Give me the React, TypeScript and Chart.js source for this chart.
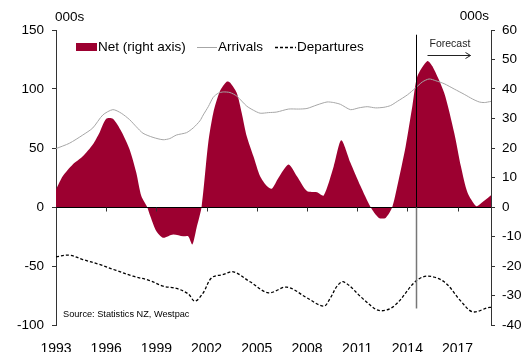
import React, { useEffect, useRef } from "react";
import { Chart, registerables } from "chart.js";

Chart.register(...registerables);

const FONT = "'Liberation Sans', Arial, sans-serif";

const xTickYears = [1993, 1996, 1999, 2002, 2005, 2008, 2011, 2014, 2017];
const leftTicks = [-100, -50, 0, 50, 100, 150];
const rightTicks = [-40, -30, -20, -10, 0, 10, 20, 30, 40, 50, 60];

const arrivalsYears = [1993.0, 1993.8, 1994.6, 1995.2, 1995.8, 1996.4, 1996.9, 1997.4, 1997.8, 1998.2, 1998.8, 1999.4, 1999.8, 2000.2, 2000.8, 2001.2, 2001.6, 2001.8, 2002.1, 2002.4, 2002.7, 2003.0, 2003.4, 2003.8, 2004.4, 2004.8, 2005.2, 2005.7, 2006.2, 2006.9, 2007.5, 2008.0, 2008.6, 2009.2, 2009.6, 2010.0, 2010.6, 2011.1, 2011.6, 2012.1, 2012.6, 2013.0, 2013.4, 2014.0, 2014.5, 2014.9, 2015.3, 2015.7, 2016.2, 2016.8, 2017.4, 2017.9, 2018.3, 2018.6, 2019.0];
const arrivalsValues = [49.5, 54, 61, 67, 78, 82.5, 79.5, 74, 68, 62.5, 59, 57, 58, 61, 63, 67, 73, 78, 85, 93, 96.5, 97.5, 97, 94, 85.5, 82, 79.5, 80, 80.5, 83, 83, 83.5, 86.5, 89, 88.5, 87, 82.5, 84, 85, 84, 84.5, 86, 89.5, 95, 101, 106, 108.5, 107, 104.5, 100, 95.5, 91.5, 89, 88.5, 89.5];

const netYears = [1993.0, 1993.4, 1994.0, 1994.6, 1995.2, 1995.6, 1996.0, 1996.4, 1996.9, 1997.4, 1997.8, 1998.1, 1998.45, 1998.6, 1999.0, 1999.4, 2000.0, 2000.6, 2000.9, 2001.15, 2001.4, 2001.7, 2002.1, 2002.4, 2002.8, 2003.2, 2003.4, 2003.8, 2004.1, 2004.4, 2004.8, 2005.2, 2005.6, 2005.9, 2006.3, 2006.9, 2007.4, 2008.0, 2008.6, 2009.0, 2009.6, 2010.05, 2010.6, 2011.2, 2011.8, 2012.3, 2012.7, 2013.1, 2013.4, 2013.9, 2014.3, 2014.6, 2015.2, 2015.5, 2016.2, 2016.8, 2017.2, 2017.6, 2018.1, 2018.3, 2019.0];
const netValues = [5.9, 10.4, 14.4, 17.2, 21.2, 25.2, 29.9, 29.9, 25.7, 19.5, 11.6, 3.7, 0, -2.5, -8.2, -10.4, -9.3, -9.9, -9.9, -12.7, -7.1, 0, 21.8, 31.9, 39.3, 42.5, 42.2, 38.7, 31.9, 24, 17.2, 10.4, 7.1, 6.2, 9.9, 14.4, 10.4, 5.4, 5.0, 3.9, 13.8, 22.6, 15, 7.1, 0, -3.7, -3.7, 0, 7.1, 20.6, 34.2, 44.3, 49.5, 47.7, 38.7, 25.2, 13.8, 4.8, 0.3, 0.8, 4];

const departuresYears = [1993.0, 1993.8, 1994.6, 1995.6, 1996.6, 1997.6, 1998.6, 1999.4, 2000.2, 2000.9, 2001.3, 2001.8, 2002.3, 2003.0, 2003.6, 2004.6, 2005.7, 2006.8, 2008.0, 2009.0, 2009.4, 2009.8, 2010.2, 2011.4, 2012.3, 2013.2, 2014.5, 2015.2, 2016.2, 2017.2, 2017.9, 2018.8, 2019.0];
const departuresValues = [-42.2, -40.8, -44.5, -48.7, -53.8, -58.6, -62.3, -67.1, -69, -73.6, -79.8, -72.7, -60, -57.2, -54.9, -63.4, -72.7, -67.9, -77, -84, -77, -67.1, -63.4, -78.4, -87.7, -84, -62.9, -58.6, -63.4, -79.8, -88.8, -85.4, -85];

const forecastYear = 2014.5;

const NET_COLOR = "#9c0030";
const ARR_COLOR = "#a6a6a6";

const zip = (xs: number[], ys: number[]) => xs.map((x, i) => ({ x, y: ys[i] }));

const overlayPlugin = {
  id: "overlay",
  afterDatasetsDraw(chart: any) {
    const { ctx, chartArea, scales } = chart;
    const xS = scales.x;
    const yS = scales.y;
    const y0 = Math.round(yS.getPixelForValue(0)) + 0.5;
    ctx.save();
    // zero line
    ctx.strokeStyle = "#000";
    ctx.lineWidth = 1;
    ctx.beginPath();
    ctx.moveTo(chartArea.left, y0);
    ctx.lineTo(chartArea.right, y0);
    ctx.stroke();
    // x tick marks on the zero line
    ctx.strokeStyle = "#333";
    xTickYears.forEach((yr) => {
      const px = Math.round(xS.getPixelForValue(yr)) + 0.5;
      ctx.beginPath();
      ctx.moveTo(px, y0);
      ctx.lineTo(px, y0 + 4);
      ctx.stroke();
    });
    // forecast divider
    const fx = Math.round(xS.getPixelForValue(forecastYear)) + 0.5;
    ctx.strokeStyle = "#000";
    ctx.beginPath();
    ctx.moveTo(fx, yS.getPixelForValue(146));
    ctx.lineTo(fx, y0);
    ctx.stroke();
    ctx.strokeStyle = "#777";
    ctx.lineWidth = 1.5;
    ctx.beginPath();
    ctx.moveTo(fx, y0);
    ctx.lineTo(fx, yS.getPixelForValue(-86));
    ctx.stroke();
    // forecast label and arrow
    ctx.fillStyle = "#222";
    ctx.font = `10.5px ${FONT}`;
    ctx.textBaseline = "middle";
    ctx.textAlign = "left";
    ctx.fillText("Forecast", fx + 13, 44);
    ctx.strokeStyle = "#222";
    ctx.lineWidth = 1;
    ctx.beginPath();
    ctx.moveTo(fx + 11, 55.5);
    ctx.lineTo(fx + 54, 55.5);
    ctx.stroke();
    ctx.beginPath();
    ctx.moveTo(fx + 49, 52.5);
    ctx.lineTo(fx + 54, 55.5);
    ctx.lineTo(fx + 49, 58.5);
    ctx.stroke();

    // legend
    ctx.font = `13.5px ${FONT}`;
    ctx.fillStyle = NET_COLOR;
    ctx.fillRect(76, 43, 21, 8);
    ctx.fillStyle = "#000";
    ctx.fillText("Net (right axis)", 98, 47.5);
    ctx.strokeStyle = ARR_COLOR;
    ctx.lineWidth = 1;
    ctx.beginPath();
    ctx.moveTo(197, 47.5);
    ctx.lineTo(217, 47.5);
    ctx.stroke();
    ctx.fillText("Arrivals", 218, 47.5);
    ctx.strokeStyle = "#000";
    ctx.lineWidth = 1.3;
    ctx.setLineDash([3, 2]);
    ctx.beginPath();
    ctx.moveTo(275, 47.5);
    ctx.lineTo(296, 47.5);
    ctx.stroke();
    ctx.setLineDash([]);
    ctx.fillText("Departures", 297, 47.5);

    // unit labels
    ctx.font = `13.5px ${FONT}`;
    ctx.textAlign = "left";
    ctx.fillText("000s", 55, 17.5);
    ctx.textAlign = "right";
    ctx.fillText("000s", 489, 16.5);

    // source
    ctx.textAlign = "left";
    ctx.font = `9.2px ${FONT}`;
    ctx.fillText("Source: Statistics NZ, Westpac", 63, 314);
    ctx.restore();
  },
};

export default function App() {
  const ref = useRef<HTMLCanvasElement | null>(null);
  useEffect(() => {
    if (!ref.current) return;
    const chart = new Chart(ref.current, {
      type: "line",
      data: {
        datasets: [
          {
            label: "Arrivals",
            data: zip(arrivalsYears, arrivalsValues),
            yAxisID: "y",
            borderColor: ARR_COLOR,
            borderWidth: 1,
            pointRadius: 0,
            tension: 0.25,
            fill: false,
            order: 1,
          },
          {
            label: "Departures",
            data: zip(departuresYears, departuresValues),
            yAxisID: "y",
            borderColor: "#000",
            borderWidth: 1.3,
            borderDash: [3, 2],
            pointRadius: 0,
            tension: 0.35,
            fill: false,
            order: 1,
          },
          {
            label: "Net (right axis)",
            data: zip(netYears, netValues),
            yAxisID: "y2",
            borderColor: NET_COLOR,
            backgroundColor: NET_COLOR,
            borderWidth: 0,
            pointRadius: 0,
            tension: 0.25,
            fill: "origin",
            order: 2,
          },
        ],
      },
      options: {
        responsive: false,
        animation: false,
        layout: { padding: { top: 30, left: 0, right: 0, bottom: 0 } },
        plugins: { legend: { display: false }, tooltip: { enabled: false } },
        scales: {
          x: {
            type: "linear",
            min: 1993,
            max: 2019,
            grid: { display: false },
            border: { display: false },
            afterBuildTicks: (s: any) => {
              s.ticks = xTickYears.map((v) => ({ value: v }));
            },
            afterFit: (s: any) => {
              s.height = 27;
            },
            ticks: {
              autoSkip: false,
              maxRotation: 0,
              padding: 8,
              color: "#000",
              font: { family: FONT, size: 14 },
              callback: (v: any) => String(v),
            },
          },
          y: {
            position: "left",
            min: -100,
            max: 150,
            afterBuildTicks: (s: any) => {
              s.ticks = leftTicks.map((v) => ({ value: v }));
            },
            afterFit: (s: any) => {
              s.width = 56;
            },
            grid: { drawOnChartArea: false, drawTicks: true, tickLength: 4, color: "#333" },
            border: { display: true, color: "#333" },
            ticks: { color: "#000", padding: 8, font: { family: FONT, size: 13.5 } },
          },
          y2: {
            position: "right",
            min: -40,
            max: 60,
            afterBuildTicks: (s: any) => {
              s.ticks = rightTicks.map((v) => ({ value: v }));
            },
            afterFit: (s: any) => {
              s.width = 33;
            },
            grid: { drawOnChartArea: false, drawTicks: true, tickLength: 4, color: "#333" },
            border: { display: true, color: "#333" },
            ticks: { color: "#000", padding: 7, font: { family: FONT, size: 13.5 } },
          },
        },
      },
      plugins: [overlayPlugin],
    });
    return () => chart.destroy();
  }, []);
  return (
    <div style={{ position: "absolute", left: 0, top: 0, width: 524, height: 352, background: "#fff" }}>
      <canvas ref={ref} width={524} height={352} style={{ width: 524, height: 352, display: "block" }} />
    </div>
  );
}
